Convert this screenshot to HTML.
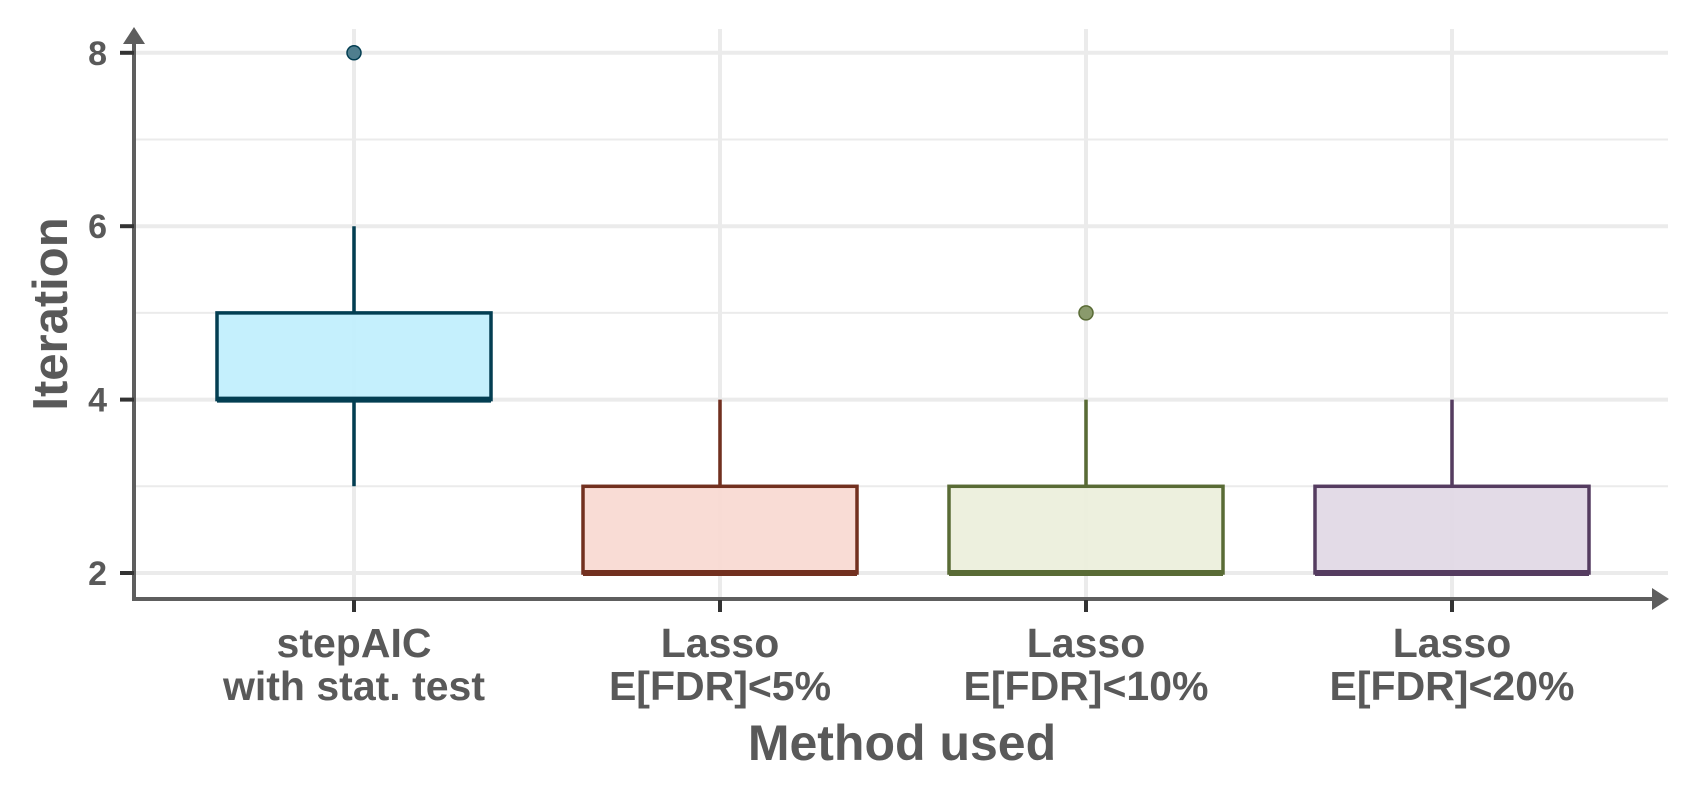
<!DOCTYPE html>
<html><head><meta charset="utf-8"><style>
html,body{margin:0;padding:0;background:#fff;width:1700px;height:800px;overflow:hidden}
text{font-family:"Liberation Sans",Arial,sans-serif;font-weight:bold;fill:#595959}
</style></head><body>
<svg id="chart" width="1700" height="800" viewBox="0 0 1700 800" xmlns="http://www.w3.org/2000/svg">
<g id="grid"></g>
<g id="boxes"></g>
<g id="axes"></g>
</svg>
<script>
const categories = [["stepAIC","with stat. test"],["Lasso","E[FDR]<5%"],["Lasso","E[FDR]<10%"],["Lasso","E[FDR]<20%"]];
const whiskerLow = [3,2,2,2];
const q1 = [4,2,2,2];
const median = [4,2,2,2];
const q3 = [5,3,3,3];
const whiskerHigh = [6,4,4,4];
const outliers = [[8],[],[5],[]];
const yTicks = [2,4,6,8];
const yMinor = [3,5,7];
const fills = ["#c2effd","#f9dad3","#ecefdc","#e1d9e6"];
const strokes = ["#033e52","#72301f","#596b35","#553c60"];
const dots = ["#4f7e8e","#a0614f","#8a9a6c","#8a7895"];

const NS="http://www.w3.org/2000/svg";
const x0=134, gridEnd=1668, yAxis=599;
const y=v=>573-(v-2)*86.7;
const x=i=>354+i*366;
const bw=274;
function mk(tag,attrs,parent){const e=document.createElementNS(NS,tag);for(const k in attrs)e.setAttribute(k,attrs[k]);parent.appendChild(e);return e;}
const grid=document.getElementById('grid'),boxes=document.getElementById('boxes'),axes=document.getElementById('axes');

yTicks.forEach(v=>{const l=mk('line',{x1:x0,x2:gridEnd,y1:y(v),y2:y(v),stroke:'#ebebeb','stroke-width':4},grid);

});
yMinor.forEach(v=>{const l=mk('line',{x1:x0,x2:gridEnd,y1:y(v),y2:y(v),stroke:'#ebebeb','stroke-width':2},grid);

});
categories.forEach((c,i)=>{const l=mk('line',{x1:x(i),x2:x(i),y1:29,y2:yAxis,stroke:'#ebebeb','stroke-width':4},grid);

});

categories.forEach((c,i)=>{
 const g=mk('g',{},boxes);
 
 
 mk('line',{x1:x(i),x2:x(i),y1:y(whiskerHigh[i]),y2:y(q3[i]),stroke:strokes[i],'stroke-width':3.5},g);
 mk('line',{x1:x(i),x2:x(i),y1:y(q1[i]),y2:y(whiskerLow[i]),stroke:strokes[i],'stroke-width':3.5},g);
 mk('rect',{x:x(i)-bw/2,y:y(q3[i]),width:bw,height:y(q1[i])-y(q3[i]),fill:fills[i],'fill-opacity':0.95,stroke:strokes[i],'stroke-width':3.5},g);
 mk('line',{x1:x(i)-bw/2,x2:x(i)+bw/2,y1:y(median[i]),y2:y(median[i]),stroke:strokes[i],'stroke-width':6},g);
 outliers[i].forEach(o=>{const d=mk('circle',{cx:x(i),cy:y(o),r:7,fill:dots[i],stroke:strokes[i],'stroke-width':1.5},g);
 
 });
});

const ya=mk('line',{x1:x0,x2:x0,y1:40,y2:yAxis+2,stroke:'#5e5e5e','stroke-width':4},axes);


mk('polygon',{points:`${x0},27 ${x0-11},44 ${x0+11},44`,fill:'#5e5e5e'},axes);
const xa=mk('line',{x1:x0-2,x2:1655,y1:yAxis,y2:yAxis,stroke:'#5e5e5e','stroke-width':4},axes);


mk('polygon',{points:`1669,${yAxis} 1652,${yAxis-11} 1652,${yAxis+11}`,fill:'#5e5e5e'},axes);

yTicks.forEach(v=>{
 mk('line',{x1:120,x2:134,y1:y(v),y2:y(v),stroke:'#333','stroke-width':4},axes);
 const t=mk('text',{x:107,y:y(v)+12,'text-anchor':'end','font-size':34},axes);
 t.textContent=v;
 
 
});
categories.forEach((c,i)=>{
 mk('line',{x1:x(i),x2:x(i),y1:yAxis+1,y2:yAxis+13,stroke:'#333','stroke-width':4},axes);
 c.forEach((s,j)=>{const t=mk('text',{x:x(i),y:657+j*43,'text-anchor':'middle','font-size':41},axes);
 t.textContent=s;
 
 });
});
const xt=mk('text',{x:902,y:760,'text-anchor':'middle','font-size':50},axes);
xt.textContent='Method used';


const yt=mk('text',{x:0,y:0,'text-anchor':'middle','font-size':49,transform:'translate(67,314) rotate(-90)'},axes);
yt.textContent='Iteration';


</script>
</body></html>
